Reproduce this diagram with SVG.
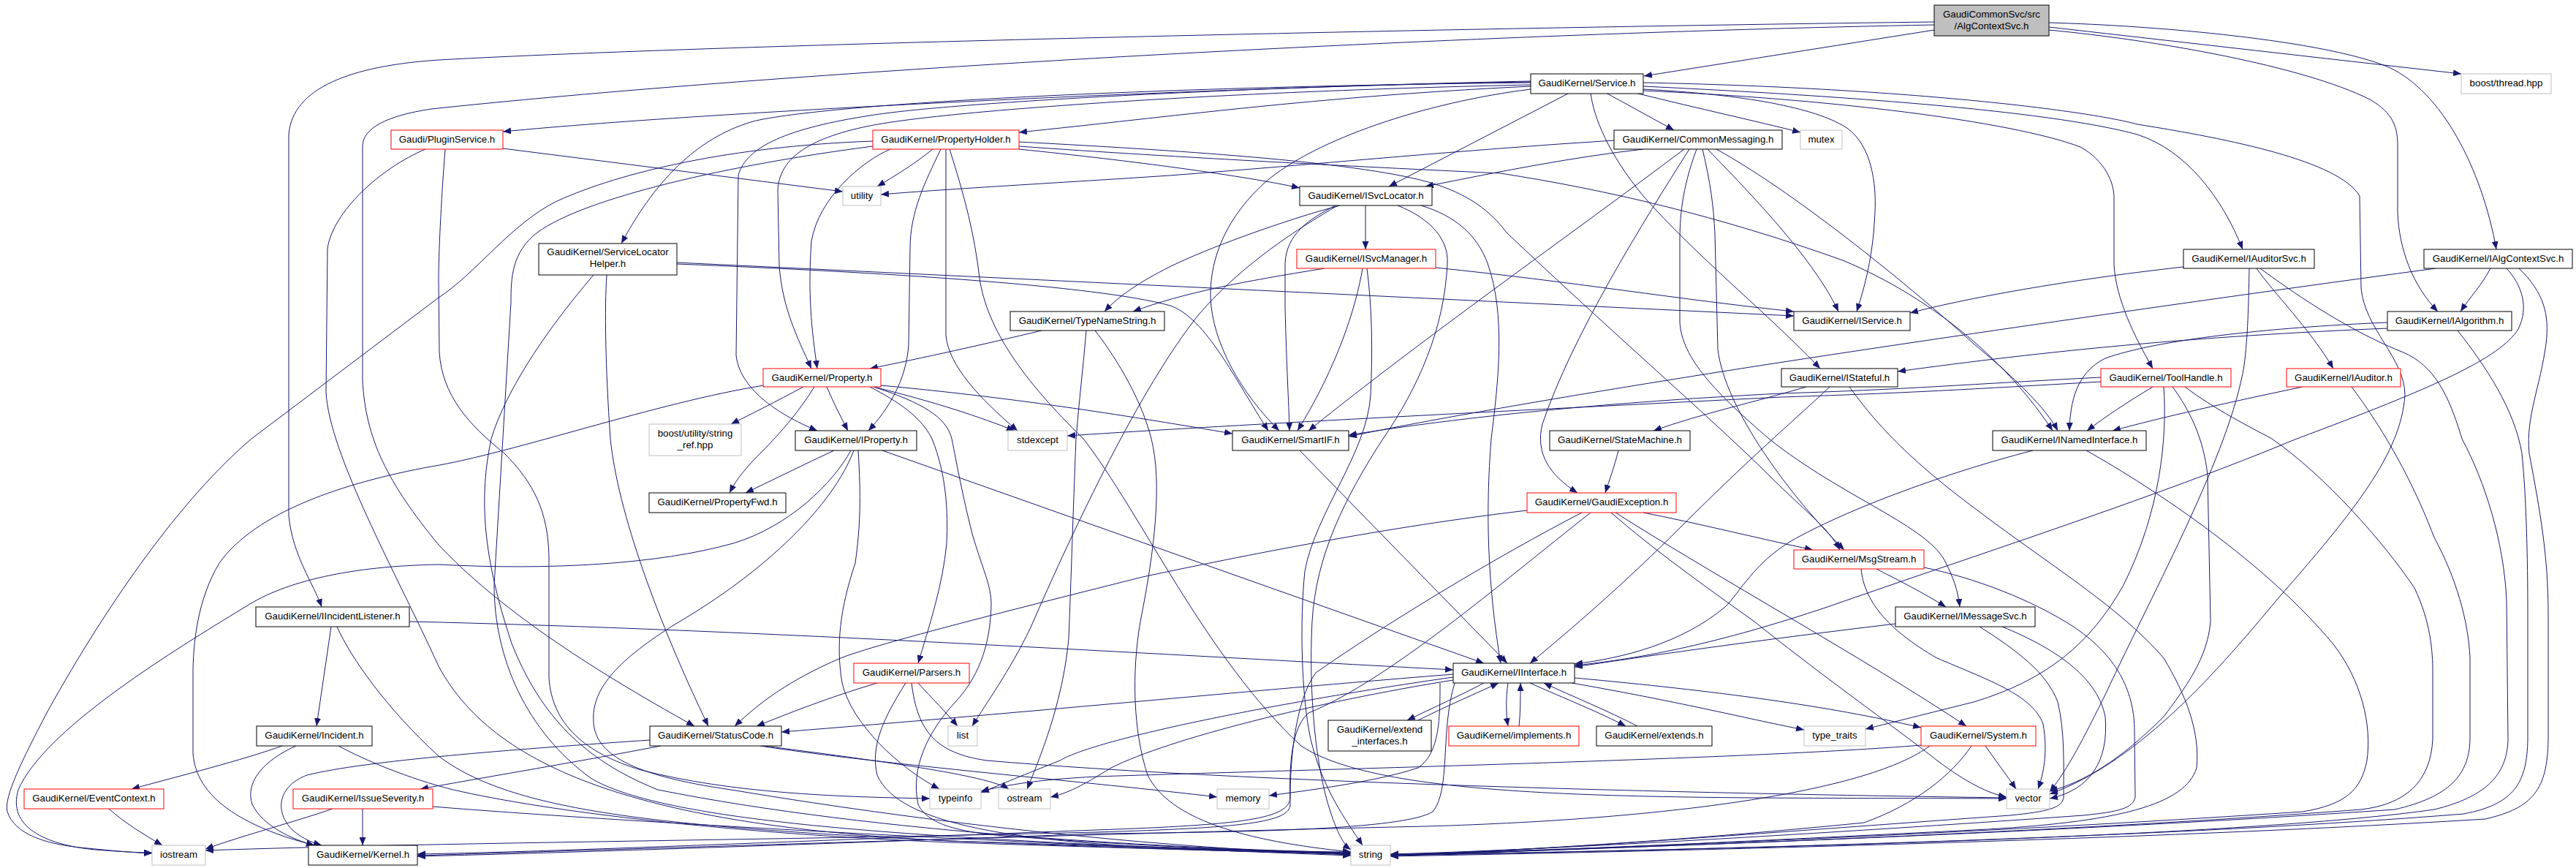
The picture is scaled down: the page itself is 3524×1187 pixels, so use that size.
<svg xmlns="http://www.w3.org/2000/svg" width="3524" height="1187" viewBox="0 0 3524 1187">
<defs>
<marker id="a" markerWidth="11" markerHeight="9" refX="11" refY="4.5" orient="auto" markerUnits="userSpaceOnUse"><path d="M0,0L11,4.5L0,9z" fill="#191970"/></marker>
<style>
.e path{fill:none;stroke:#191970;stroke-width:1;marker-end:url(#a)}
.n rect{fill:#fff;stroke:#000;stroke-width:1}
.n.r rect{stroke:#ff0000}
.n.g rect{stroke:#bfbfbf}
.n.root rect{fill:#bfbfbf}
text{font-family:"Liberation Sans",Arial,Helvetica,sans-serif;font-size:13.3px;fill:#000;text-anchor:middle}
</style>
</defs>
<rect width="3524" height="1187" fill="#fff"/>
<g id="edges" class="e">
<path d="M2646,41 L2249,104"/>
<path d="M2803,37 L3367,101"/>
<path d="M2803,31 C2950,35 3180,55 3268,92 C3340,125 3395,230 3415,341"/>
<path d="M2803,41 C2950,55 3150,90 3242,136 C3275,155 3280,175 3280,200 L3280,291 C3282,340 3300,390 3335,426"/>
<path d="M2646,30 C2000,38 1000,60 600,82 C480,90 400,120 395,184 L395,705 C400,760 430,800 440,830"/>
<path d="M2646,34 C2000,46 1100,95 590,149 C530,158 496,175 496,200 L496,520 C500,600 530,660 600,745 C680,830 800,910 950,993"/>
<path d="M2094,112 C1700,118 1000,150 688,180"/>
<path d="M2094,118 C1800,132 1600,160 1394,181"/>
<path d="M2197,127 L2290,178"/>
<path d="M2237,127 C2330,150 2400,165 2463,181"/>
<path d="M2147,127 L1900,255"/>
<path d="M2094,113 C1600,118 1150,140 1034,165 C960,185 900,240 850,333"/>
<path d="M2248,118 C2500,130 2800,150 2924,184 C2990,205 3040,270 3068,341"/>
<path d="M2248,122 C2400,130 2490,150 2528,176 C2560,200 2567,250 2565,290 C2563,340 2555,380 2540,426"/>
<path d="M2248,124 C2500,135 2750,165 2846,201 C2880,220 2892,250 2892,270 L2892,363 C2895,410 2920,460 2945,504"/>
<path d="M2094,116 C1700,124 1300,150 1190,172 C1100,190 1066,220 1064,260 L1066,363 C1070,420 1090,460 1110,504"/>
<path d="M2094,111 C1700,119 1300,140 1190,158 C1080,175 1020,200 1010,240 L1007,486 C1012,530 1060,565 1118,589"/>
<path d="M2094,122 C1950,140 1800,190 1731,249 C1680,295 1655,350 1656,406 C1658,470 1700,540 1750,589"/>
<path d="M2176,127 C2180,160 2200,210 2248,268 C2320,350 2420,430 2490,504"/>
<path d="M2248,113 C2600,120 2850,150 2924,170 C3050,190 3200,220 3228,268 L3230,394 C3235,450 3290,490 3290,540 C3285,620 3220,700 3115,820 C3040,910 2930,1040 2804,1086"/>
<path d="M688,203 L1153,262"/>
<path d="M582,204 C520,230 455,290 448,340 L446,536 C450,620 540,780 600,911 C680,1060 900,1130 1300,1150 C1600,1162 1750,1166 1848,1167"/>
<path d="M609,204 C603,280 600,350 600,383 L601,482 C605,540 640,580 690,620 C730,660 750,700 751,762 L751,927 C755,990 800,1030 877,1053 C1000,1085 1150,1090 1272,1092"/>
<path d="M1276,204 C1250,225 1225,240 1200,255"/>
<path d="M1218,204 C1180,220 1120,270 1110,330 C1105,400 1110,450 1118,504"/>
<path d="M1287,204 C1265,250 1245,290 1245,340 L1243,471 C1240,520 1215,560 1188,589"/>
<path d="M1294,204 L1294,459 C1298,500 1340,545 1392,589"/>
<path d="M1394,204 C1550,220 1700,240 1778,257"/>
<path d="M1394,194 C1600,205 1850,220 1954,249 C2010,265 2040,290 2061,318 C2200,450 2350,580 2420,650 C2470,700 2500,720 2517,752"/>
<path d="M1394,200 C1600,215 1900,230 2053,237 C2200,260 2350,295 2521,356 C2650,410 2750,500 2808,589"/>
<path d="M1194,193 C1000,200 850,235 762,275 C700,305 650,375 600,407 L344,600 C250,680 150,820 65,973 C30,1040 5,1090 10,1110 C20,1140 60,1155 120,1160 C160,1164 185,1166 208,1167"/>
<path d="M1194,200 C1000,225 800,270 735,318 C700,345 699,380 699,413 L676,800 C676,900 720,1000 808,1064 C900,1120 1200,1140 1500,1155 C1700,1163 1800,1165 1848,1165"/>
<path d="M1299,204 C1320,270 1333,320 1340,380 C1350,450 1400,520 1482,600 C1560,700 1650,900 1780,1020 C1900,1100 2300,1090 2745,1092"/>
<path d="M2208,192 C2000,205 1800,225 1600,240 C1450,250 1300,258 1205,266"/>
<path d="M2248,204 C2150,215 2050,235 1950,255"/>
<path d="M2304,204 C2150,320 1950,460 1790,589"/>
<path d="M2311,204 C2250,300 2150,460 2110,580 C2100,620 2120,650 2158,674"/>
<path d="M2321,204 C2300,260 2298,300 2298,330 L2298,440 C2300,490 2350,540 2420,600 C2520,680 2640,720 2662,770 C2672,790 2678,805 2681,830"/>
<path d="M2329,204 C2340,250 2344,280 2346,320 L2350,478 C2360,560 2450,680 2523,752"/>
<path d="M2336,204 C2380,250 2480,350 2515,426"/>
<path d="M2348,204 C2450,260 2600,380 2700,470 C2760,520 2800,560 2815,589"/>
<path d="M1868,281 L1868,341"/>
<path d="M1833,281 C1760,300 1650,340 1600,365 C1560,385 1530,405 1511,426"/>
<path d="M1827,281 C1790,300 1760,320 1758,360 L1758,421 C1760,500 1763,550 1764,589"/>
<path d="M1944,281 C1990,295 2020,320 2035,360 C2060,430 2050,520 2040,600 C2032,700 2035,800 2053,907"/>
<path d="M1912,281 C1960,300 1982,330 1980,360 C1976,450 1940,530 1892,600 C1840,680 1800,760 1795,850 C1790,950 1800,1050 1820,1110 C1830,1140 1838,1155 1848,1162"/>
<path d="M1830,281 C1780,310 1700,360 1640,430 C1560,530 1470,720 1410,858 C1380,920 1350,960 1330,993"/>
<path d="M926,359 L2454,432"/>
<path d="M926,361 C1200,372 1500,390 1601,418 C1650,435 1690,520 1735,589"/>
<path d="M830,376 C827,420 828,500 835,600 C845,700 900,850 969,993"/>
<path d="M812,376 C740,460 690,540 672,600 C655,680 660,760 700,880 C740,980 800,1040 900,1080 C1200,1140 1600,1160 1848,1166"/>
<path d="M1812,367 C1700,385 1620,400 1550,426"/>
<path d="M1864,367 C1855,420 1830,500 1775,589"/>
<path d="M1870,367 C1877,420 1878,480 1875,540 C1870,620 1800,700 1785,781 C1778,850 1780,950 1793,1011 C1810,1080 1840,1120 1864,1156"/>
<path d="M1964,366 C2150,385 2300,410 2454,426"/>
<path d="M2987,365 C2850,380 2700,405 2613,428"/>
<path d="M3087,367 C3110,400 3160,450 3192,504"/>
<path d="M3092,367 C3150,410 3220,455 3288,482 C3330,500 3350,540 3368,600 C3400,660 3425,740 3429,820 L3431,1011 C3430,1060 3400,1090 3330,1107 C3100,1140 2500,1160 1902,1169"/>
<path d="M3077,367 C3076,420 3075,460 3070,500 C3050,620 2950,800 2880,950 C2850,1010 2830,1050 2804,1083"/>
<path d="M3407,367 C3395,390 3380,405 3366,426"/>
<path d="M3332,367 C3050,405 2700,455 2420,498 C2150,540 1950,575 1845,597"/>
<path d="M3446,367 C3480,400 3488,430 3483,470 C3475,530 3455,570 3460,620 C3475,700 3486,760 3486,840 L3486,1011 C3485,1080 3465,1105 3400,1120 C3000,1145 2400,1162 1902,1171"/>
<path d="M3429,367 C3450,390 3460,420 3445,450 C3420,490 3330,530 3142,600 C2950,680 2700,760 2500,830 C2350,880 2250,900 2154,910"/>
<path d="M3266,441 C3100,448 2950,465 2880,490 C2840,510 2832,550 2831,589"/>
<path d="M3266,449 C3000,460 2800,480 2596,508"/>
<path d="M3362,452 C3400,500 3440,560 3450,620 C3456,680 3458,760 3458,840 L3458,1011 C3457,1070 3440,1100 3370,1113 C3000,1143 2400,1161 1902,1170"/>
<path d="M453,857 L433,993"/>
<path d="M560,850 C1000,860 1500,890 1988,916"/>
<path d="M461,857 C480,900 530,970 600,1034 C700,1110 900,1130 1300,1150 C1600,1160 1780,1165 1848,1167"/>
<path d="M386,1020 C330,1040 250,1060 180,1079"/>
<path d="M405,1020 C360,1040 335,1070 345,1100 C360,1130 400,1148 430,1156"/>
<path d="M463,1020 C500,1040 560,1065 620,1080 C750,1110 1000,1140 1300,1152 C1600,1162 1780,1166 1848,1168"/>
<path d="M149,1106 C170,1125 195,1140 222,1156"/>
<path d="M455,1106 C400,1125 340,1140 281,1161"/>
<path d="M496,1106 L496,1156"/>
<path d="M592,1103 C800,1120 1300,1150 1848,1170"/>
<path d="M904,1020 C800,1040 680,1060 575,1079"/>
<path d="M889,1012 C700,1025 500,1040 420,1060 C380,1075 375,1110 400,1135 C415,1148 430,1153 440,1156"/>
<path d="M1045,1020 C1200,1040 1350,1060 1380,1079"/>
<path d="M1040,1020 C1200,1045 1500,1070 1665,1090"/>
<path d="M1256,934 C1275,955 1295,975 1310,993"/>
<path d="M1200,934 C1130,955 1080,975 1035,993"/>
<path d="M1239,934 C1210,980 1190,1020 1200,1060 C1230,1130 1400,1150 1600,1160 C1750,1165 1820,1166 1848,1166"/>
<path d="M1247,934 C1255,1000 1280,1030 1350,1040 C1700,1070 2300,1085 2745,1091"/>
<path d="M1131,529 C1140,550 1150,570 1160,589"/>
<path d="M1099,529 C1060,550 1030,565 1000,580"/>
<path d="M1114,529 C1095,560 1070,590 1040,620 C1015,645 1005,660 998,674"/>
<path d="M1195,529 C1280,550 1340,570 1388,589"/>
<path d="M1205,527 C1400,545 1550,570 1686,593"/>
<path d="M1045,527 C900,550 700,620 590,638 C470,660 350,700 300,770 C270,820 264,880 264,923 L264,1030 C268,1090 330,1130 430,1156"/>
<path d="M1190,529 C1230,550 1260,570 1275,600 C1295,650 1297,700 1295,743 C1290,800 1270,860 1256,907"/>
<path d="M1195,529 C1260,550 1295,570 1302,600 C1310,640 1316,674 1330,730 C1345,781 1356,800 1356,827 C1355,870 1345,920 1306,961 C1270,1000 1245,1050 1256,1100 C1270,1130 1320,1140 1400,1145 C1600,1160 1780,1165 1848,1167"/>
<path d="M1141,616 C1100,635 1060,655 1020,674"/>
<path d="M1164,616 C1140,660 1080,720 1003,743 C900,772 750,780 600,772 C480,774 390,795 337,829 C220,900 60,1000 25,1080 C10,1130 60,1155 130,1162 C170,1165 190,1166 208,1166"/>
<path d="M1207,616 L2030,907"/>
<path d="M1168,616 C1140,690 1050,780 923,854 C850,900 808,940 812,988 C815,1030 860,1060 1000,1080 C1300,1130 1600,1160 1848,1169"/>
<path d="M1174,616 C1178,680 1177,720 1170,770 C1150,830 1143,880 1152,934 C1165,990 1230,1050 1285,1079"/>
<path d="M1425,452 C1350,470 1260,490 1190,504"/>
<path d="M1486,452 C1482,500 1476,550 1472,600 C1468,700 1465,800 1462,873 C1455,950 1430,1020 1405,1079"/>
<path d="M1498,452 C1520,480 1560,540 1575,600 C1590,660 1580,750 1560,850 C1548,920 1550,1000 1570,1060 C1600,1120 1700,1150 1848,1165"/>
<path d="M1778,616 L2062,907"/>
<path d="M2214,616 C2208,640 2202,655 2196,674"/>
<path d="M2471,529 C2400,550 2330,565 2262,589"/>
<path d="M2503,529 C2460,570 2400,620 2300,720 C2220,800 2150,860 2093,907"/>
<path d="M2530,529 C2560,570 2600,620 2704,697 C2800,770 2900,830 2960,900 C2990,950 3010,1000 3005,1050 C2990,1100 2900,1125 2700,1135 C2400,1150 2100,1165 1902,1169"/>
<path d="M2089,698 C1900,720 1700,760 1563,789 C1400,830 1200,880 1150,900 C1080,930 1040,960 1005,993"/>
<path d="M2248,701 C2320,715 2400,735 2480,752"/>
<path d="M2210,701 C2350,790 2550,900 2690,993"/>
<path d="M2164,701 C2050,760 1900,850 1800,920 C1770,960 1765,1050 1765,1090 C1765,1120 1700,1128 1500,1135 C1100,1150 750,1165 571,1168"/>
<path d="M2176,701 C2050,800 1900,930 1790,975 C1760,1000 1765,1080 1765,1100 C1765,1125 1700,1132 1500,1138 C1000,1150 600,1152 281,1163"/>
<path d="M2204,701 C2260,750 2330,800 2400,850 C2500,930 2600,1000 2650,1040 C2690,1070 2720,1085 2745,1090"/>
<path d="M2567,778 C2600,795 2630,810 2662,830"/>
<path d="M2546,778 C2550,820 2580,860 2650,900 C2720,930 2780,950 2795,990 C2802,1030 2795,1060 2788,1079"/>
<path d="M2632,776 C2700,790 2780,820 2838,858 C2900,900 2920,950 2920,1000 L2921,1090 C2918,1105 2900,1110 2850,1115 C2500,1140 2100,1163 1902,1168"/>
<path d="M2593,853 C2450,870 2300,890 2154,912"/>
<path d="M2708,857 C2760,890 2800,920 2815,960 C2825,1000 2823,1050 2823,1090 C2822,1105 2800,1110 2750,1115 C2400,1140 2100,1164 1902,1170"/>
<path d="M2739,857 C2820,890 2870,930 2880,980 C2885,1040 2860,1080 2804,1092"/>
<path d="M2781,616 C2650,650 2520,700 2450,740 C2400,770 2380,810 2360,830 C2300,880 2220,900 2154,908"/>
<path d="M2854,616 C2950,670 3100,770 3192,881 C3230,930 3245,990 3238,1040 C3230,1080 3210,1100 3150,1110 C2700,1140 2200,1160 1902,1169"/>
<path d="M2945,529 C2910,550 2880,570 2855,589"/>
<path d="M2874,516 C2700,525 2600,533 2437,538 C2200,550 2000,570 1845,595"/>
<path d="M2874,522 C2700,532 2600,538 2437,543 C2100,560 1700,580 1460,596"/>
<path d="M2972,529 C2995,560 3015,600 3020,650 L3024,850 C3020,900 2990,940 2960,980 C2900,1040 2850,1070 2804,1082"/>
<path d="M2989,529 C3030,560 3080,585 3108,600 C3180,650 3260,740 3303,804 C3325,850 3328,890 3328,919 L3328,1011 C3325,1070 3290,1100 3230,1107 C2800,1140 2200,1160 1902,1170"/>
<path d="M2960,529 C2965,600 2955,700 2905,800 C2860,880 2800,930 2700,960 C2620,980 2580,990 2552,997"/>
<path d="M3150,529 C3050,550 2960,570 2890,589"/>
<path d="M3217,529 C3240,560 3290,630 3330,735 C3360,790 3377,850 3379,900 L3379,1011 C3378,1060 3350,1090 3276,1107 C2800,1140 2200,1160 1902,1170"/>
<path d="M2716,1020 C2730,1040 2745,1060 2758,1079"/>
<path d="M2697,1020 C2670,1060 2620,1100 2550,1125 C2300,1150 2050,1165 1902,1169"/>
<path d="M2628,1019 C2400,1038 1800,1052 1500,1062 C1420,1066 1380,1073 1342,1082"/>
<path d="M2640,1020 C2560,1080 2300,1120 1950,1130 C1500,1140 900,1160 571,1170"/>
<path d="M2030,934 C2000,950 1960,968 1925,985"/>
<path d="M1940,985 C1980,965 2020,948 2050,934"/>
<path d="M2063,934 C2060,955 2060,975 2063,993"/>
<path d="M2078,993 C2080,975 2080,955 2080,934"/>
<path d="M2093,934 C2140,955 2190,975 2224,993"/>
<path d="M2240,993 C2200,972 2150,952 2112,934"/>
<path d="M2154,927 C2350,945 2500,965 2628,995"/>
<path d="M2150,934 C2300,960 2400,985 2468,998"/>
<path d="M1988,922 C1700,945 1400,975 1069,1001"/>
<path d="M1988,930 C1800,960 1600,1010 1520,1050 C1480,1075 1460,1085 1437,1090"/>
<path d="M1970,934 C1970,980 1970,1030 1940,1050 C1880,1070 1780,1082 1736,1088"/>
<path d="M1988,926 C1750,960 1500,1010 1450,1040 C1400,1060 1370,1072 1342,1084"/>
<path d="M1990,934 C1970,1000 1985,1080 1960,1110 C1920,1135 1700,1138 1500,1140 C1100,1155 750,1167 571,1171"/>
</g>
<g id="nodes">
<g id="n_root" class="n root"><rect x="2646" y="7" width="157" height="42"/><text x="2724.5" y="24">GaudiCommonSvc/src</text><text x="2724.5" y="40">/AlgContextSvc.h</text></g>
<g id="n_Service" class="n"><rect x="2094" y="101" width="154" height="27"/><text x="2171" y="117.5">GaudiKernel/Service.h</text></g>
<g id="n_boost_thread" class="n g"><rect x="3367" y="101" width="123" height="27"/><text x="3428.5" y="117.5">boost/thread.hpp</text></g>
<g id="n_PluginService" class="n r"><rect x="535" y="178" width="153" height="26"/><text x="611.5" y="194.5">Gaudi/PluginService.h</text></g>
<g id="n_PropertyHolder" class="n r"><rect x="1194" y="178" width="200" height="26"/><text x="1294" y="194.5">GaudiKernel/PropertyHolder.h</text></g>
<g id="n_utility" class="n g"><rect x="1153" y="255" width="52" height="26"/><text x="1179" y="271.5">utility</text></g>
<g id="n_CommonMessaging" class="n"><rect x="2208" y="178" width="230" height="26"/><text x="2323" y="194.5">GaudiKernel/CommonMessaging.h</text></g>
<g id="n_mutex" class="n g"><rect x="2463" y="178" width="57" height="26"/><text x="2491.5" y="194.5">mutex</text></g>
<g id="n_ISvcLocator" class="n"><rect x="1778" y="255" width="181" height="26"/><text x="1868.5" y="271.5">GaudiKernel/ISvcLocator.h</text></g>
<g id="n_ServiceLocatorHelper" class="n"><rect x="737" y="333" width="189" height="43"/><text x="831.5" y="349">GaudiKernel/ServiceLocator</text><text x="831.5" y="365">Helper.h</text></g>
<g id="n_ISvcManager" class="n r"><rect x="1774" y="341" width="190" height="26"/><text x="1869" y="357.5">GaudiKernel/ISvcManager.h</text></g>
<g id="n_IAuditorSvc" class="n"><rect x="2987" y="341" width="179" height="26"/><text x="3076.5" y="357.5">GaudiKernel/IAuditorSvc.h</text></g>
<g id="n_IAlgContextSvc" class="n"><rect x="3316" y="341" width="203" height="26"/><text x="3417.5" y="357.5">GaudiKernel/IAlgContextSvc.h</text></g>
<g id="n_TypeNameString" class="n"><rect x="1382" y="426" width="211" height="26"/><text x="1487.5" y="442.5">GaudiKernel/TypeNameString.h</text></g>
<g id="n_IService" class="n"><rect x="2454" y="426" width="159" height="26"/><text x="2533.5" y="442.5">GaudiKernel/IService.h</text></g>
<g id="n_IAlgorithm" class="n"><rect x="3266" y="426" width="170" height="26"/><text x="3351" y="442.5">GaudiKernel/IAlgorithm.h</text></g>
<g id="n_Property" class="n r"><rect x="1044" y="504" width="161" height="25"/><text x="1124.5" y="520.5">GaudiKernel/Property.h</text></g>
<g id="n_IStateful" class="n"><rect x="2437" y="504" width="159" height="25"/><text x="2516.5" y="520.5">GaudiKernel/IStateful.h</text></g>
<g id="n_ToolHandle" class="n r"><rect x="2874" y="504" width="178" height="25"/><text x="2963" y="520.5">GaudiKernel/ToolHandle.h</text></g>
<g id="n_IAuditor" class="n r"><rect x="3128" y="504" width="156" height="25"/><text x="3206" y="520.5">GaudiKernel/IAuditor.h</text></g>
<g id="n_string_ref" class="n g"><rect x="888" y="580" width="126" height="43"/><text x="951" y="597">boost/utility/string</text><text x="951" y="613">_ref.hpp</text></g>
<g id="n_IProperty" class="n"><rect x="1088" y="589" width="166" height="27"/><text x="1171" y="606">GaudiKernel/IProperty.h</text></g>
<g id="n_stdexcept" class="n g"><rect x="1379" y="589" width="81" height="27"/><text x="1419.5" y="606">stdexcept</text></g>
<g id="n_SmartIF" class="n"><rect x="1686" y="589" width="159" height="27"/><text x="1765.5" y="606">GaudiKernel/SmartIF.h</text></g>
<g id="n_StateMachine" class="n"><rect x="2120" y="589" width="192" height="27"/><text x="2216" y="606">GaudiKernel/StateMachine.h</text></g>
<g id="n_INamedInterface" class="n"><rect x="2726" y="589" width="210" height="27"/><text x="2831" y="606">GaudiKernel/INamedInterface.h</text></g>
<g id="n_PropertyFwd" class="n"><rect x="888" y="674" width="187" height="27"/><text x="981.5" y="691">GaudiKernel/PropertyFwd.h</text></g>
<g id="n_GaudiException" class="n r"><rect x="2089" y="674" width="204" height="27"/><text x="2191" y="691">GaudiKernel/GaudiException.h</text></g>
<g id="n_MsgStream" class="n r"><rect x="2454" y="752" width="178" height="26"/><text x="2543" y="768.5">GaudiKernel/MsgStream.h</text></g>
<g id="n_IIncidentListener" class="n"><rect x="350" y="830" width="210" height="27"/><text x="455" y="847">GaudiKernel/IIncidentListener.h</text></g>
<g id="n_IMessageSvc" class="n"><rect x="2593" y="830" width="191" height="27"/><text x="2688.5" y="847">GaudiKernel/IMessageSvc.h</text></g>
<g id="n_Parsers" class="n r"><rect x="1168" y="907" width="158" height="27"/><text x="1247" y="924">GaudiKernel/Parsers.h</text></g>
<g id="n_IInterface" class="n"><rect x="1988" y="907" width="166" height="27"/><text x="2071" y="924">GaudiKernel/IInterface.h</text></g>
<g id="n_Incident" class="n"><rect x="351" y="993" width="158" height="27"/><text x="430" y="1010">GaudiKernel/Incident.h</text></g>
<g id="n_StatusCode" class="n"><rect x="889" y="993" width="180" height="27"/><text x="979" y="1010">GaudiKernel/StatusCode.h</text></g>
<g id="n_list" class="n g"><rect x="1297" y="993" width="40" height="27"/><text x="1317" y="1010">list</text></g>
<g id="n_extend_interfaces" class="n"><rect x="1817" y="985" width="141" height="42"/><text x="1887.5" y="1002">GaudiKernel/extend</text><text x="1887.5" y="1018">_interfaces.h</text></g>
<g id="n_implements" class="n r"><rect x="1982" y="993" width="178" height="27"/><text x="2071" y="1010">GaudiKernel/implements.h</text></g>
<g id="n_extends" class="n"><rect x="2184" y="993" width="158" height="27"/><text x="2263" y="1010">GaudiKernel/extends.h</text></g>
<g id="n_type_traits" class="n g"><rect x="2468" y="993" width="84" height="27"/><text x="2510" y="1010">type_traits</text></g>
<g id="n_System" class="n r"><rect x="2628" y="993" width="157" height="27"/><text x="2706.5" y="1010">GaudiKernel/System.h</text></g>
<g id="n_EventContext" class="n r"><rect x="33" y="1079" width="191" height="27"/><text x="128.5" y="1096">GaudiKernel/EventContext.h</text></g>
<g id="n_IssueSeverity" class="n r"><rect x="401" y="1079" width="191" height="27"/><text x="496.5" y="1096">GaudiKernel/IssueSeverity.h</text></g>
<g id="n_typeinfo" class="n g"><rect x="1272" y="1079" width="70" height="27"/><text x="1307" y="1096">typeinfo</text></g>
<g id="n_ostream" class="n g"><rect x="1366" y="1079" width="71" height="27"/><text x="1401.5" y="1096">ostream</text></g>
<g id="n_memory" class="n g"><rect x="1665" y="1079" width="71" height="27"/><text x="1700.5" y="1096">memory</text></g>
<g id="n_vector" class="n g"><rect x="2745" y="1079" width="59" height="27"/><text x="2774.5" y="1096">vector</text></g>
<g id="n_iostream" class="n g"><rect x="208" y="1156" width="73" height="27"/><text x="244.5" y="1173">iostream</text></g>
<g id="n_Kernel" class="n"><rect x="422" y="1156" width="149" height="27"/><text x="496.5" y="1173">GaudiKernel/Kernel.h</text></g>
<g id="n_string" class="n g"><rect x="1848" y="1156" width="54" height="27"/><text x="1875" y="1173">string</text></g>
</g>
</svg>
